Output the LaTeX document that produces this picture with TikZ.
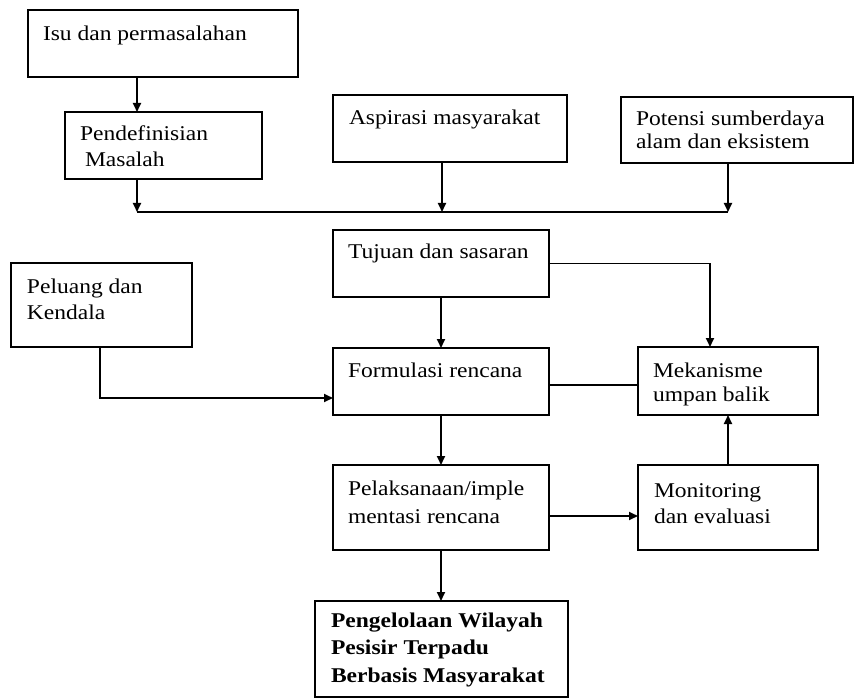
\documentclass[tikz,border=0pt]{standalone}
\usepackage{fontspec}
\setmainfont{Liberation Serif}[FakeStretch=1.12]
\usetikzlibrary{arrows.meta}
% #1 width, #2 height, #3 left pad, #4 first baseline, #5 line skip, #6 lines
\newcommand\bxt[6]{\vbox to #2pt{\kern#4pt\hbox to #1pt{\kern#3pt\smash{\fontsize{21}{#5}\selectfont\begin{tabular}[t]{@{}l@{}}#6\end{tabular}}\hss}\vss}}
\begin{document}
\begin{tikzpicture}[x=1pt,y=-1pt,
  box/.style={draw, line width=1.9pt, inner sep=0pt, outer sep=0pt, anchor=north west},
  arr/.style={line width=1.9pt, -{Triangle[length=9pt,width=8pt]}},
  ln/.style={line width=1.9pt}]
\useasboundingbox (0,0) rectangle (860,698);
\node[box] (isu)   at (28,10)   {\bxt{270}{67}{15}{31}{26}{Isu dan permasalahan}};
\node[box] (pend)  at (65,112)  {\bxt{197}{67}{15}{28}{26}{Pendefinisian\\\hspace{5pt}Masalah}};
\node[box] (asp)   at (333,95)  {\bxt{234}{67}{16}{30}{26}{Aspirasi masyarakat}};
\node[box] (pot)   at (621,97)  {\bxt{232}{66}{15}{29}{23}{Potensi sumberdaya\\alam dan eksistem}};
\node[box] (tuj)   at (333,230) {\bxt{216}{67}{15}{28}{26}{Tujuan dan sasaran}};
\node[box] (pel)   at (11,263)  {\bxt{181}{84}{16}{30}{26}{Peluang dan\\Kendala}};
\node[box] (form)  at (333,348) {\bxt{216}{67}{15}{29}{26}{Formulasi rencana}};
\node[box] (mek)   at (638,347) {\bxt{180}{68}{15}{30}{24}{Mekanisme\\umpan balik}};
\node[box] (laks)  at (333,465) {\bxt{216}{85}{15}{30}{28}{Pelaksanaan/imple\\mentasi rencana}};
\node[box] (mon)   at (638,465) {\bxt{180}{85}{16}{32}{26}{Monitoring\\dan evaluasi}};
\node[box] (fin)   at (315,601) {\bxt{253}{96}{16}{26}{27.5}{\bfseries Pengelolaan Wilayah\\\bfseries Pesisir Terpadu\\\bfseries Berbasis Masyarakat}};
\coordinate (jl) at (137,212);
\coordinate (jr) at (728,212);
\draw[arr] ([xshift=109pt]isu.south west) -- ([xshift=72pt]pend.north west);
\draw[arr] ([xshift=72pt]pend.south west) -- (jl);
\draw[ln] (jl) -- (jr);
\draw[arr] ([xshift=109pt]asp.south west) -- ([xshift=109pt]asp.south west |- jl);
\draw[arr] ([xshift=107pt]pot.south west) -- (jr);
\draw[arr] (tuj.south) -- (tuj.south |- form.north);
\draw[arr] (tuj.east) -| ([xshift=72pt]mek.north west);
\draw[arr] ([xshift=-1.5pt]pel.south) |- ([yshift=-50pt]form.north west);
\draw[ln] ([yshift=-37pt]form.north east) -- ([yshift=-38pt]mek.north west);
\draw[arr] (form.south) -- (form.south |- laks.north);
\draw[arr] ([yshift=-51pt]laks.north east) -- ([yshift=-51pt]mon.north west);
\draw[arr] (mon.north) -- (mon.north |- mek.south);
\draw[arr] (laks.south) -- (laks.south |- fin.north);
\end{tikzpicture}
\end{document}
